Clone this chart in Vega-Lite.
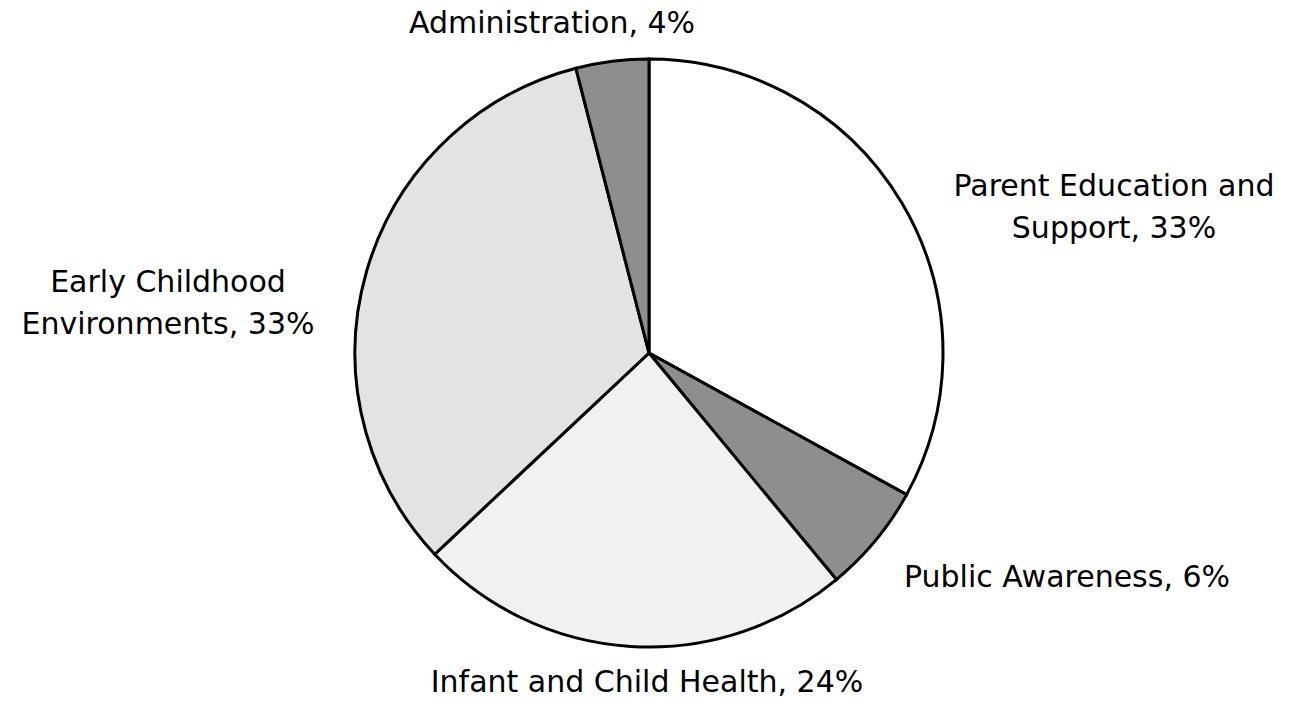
{
  "$schema": "https://vega.github.io/schema/vega-lite/v6.json",
  "width": 1282,
  "height": 704,
  "padding": {"left": 8, "right": 1, "top": 1, "bottom": 2},
  "autosize": {"type": "none"},
  "background": "white",
  "config": {"view": {"stroke": null}},
  "datasets": {
    "slices": [
      {"category": "Parent Education and Support", "value": 33, "order": 1},
      {"category": "Public Awareness", "value": 6, "order": 2},
      {"category": "Infant and Child Health", "value": 24, "order": 3},
      {"category": "Early Childhood Environments", "value": 33, "order": 4},
      {"category": "Administration", "value": 4, "order": 5}
    ],
    "labels": [
      {"label": ["Administration, 4%"], "lx": 552, "ly": 33},
      {"label": ["Parent Education and", "Support, 33%"], "lx": 1114, "ly": 196},
      {"label": ["Public Awareness, 6%"], "lx": 1067, "ly": 587},
      {"label": ["Infant and Child Health, 24%"], "lx": 647, "ly": 692},
      {"label": ["Early Childhood", "Environments, 33%"], "lx": 168, "ly": 292}
    ]
  },
  "layer": [
    {
      "data": {"name": "slices"},
      "mark": {"type": "arc", "outerRadius": 294, "stroke": "black", "strokeWidth": 3},
      "encoding": {
        "theta": {"field": "value", "type": "quantitative", "stack": true},
        "order": {"field": "order", "type": "quantitative"},
        "color": {
          "field": "category",
          "type": "nominal",
          "legend": null,
          "scale": {
            "domain": ["Parent Education and Support", "Public Awareness", "Infant and Child Health", "Early Childhood Environments", "Administration"],
            "range": ["#ffffff", "#8e8e8e", "#f1f1f1", "#e3e3e3", "#8e8e8e"]
          }
        }
      }
    },
    {
      "data": {"name": "labels"},
      "mark": {"type": "text", "font": "DejaVu Sans", "fontSize": 30, "color": "black", "align": "center", "baseline": "alphabetic", "lineHeight": 42},
      "encoding": {
        "text": {"field": "label"},
        "x": {"field": "lx", "type": "quantitative", "axis": null, "scale": {"domain": [8, 1290], "nice": false, "zero": false}},
        "y": {"field": "ly", "type": "quantitative", "axis": null, "scale": {"domain": [1, 705], "reverse": true, "nice": false, "zero": false}}
      }
    }
  ]
}
